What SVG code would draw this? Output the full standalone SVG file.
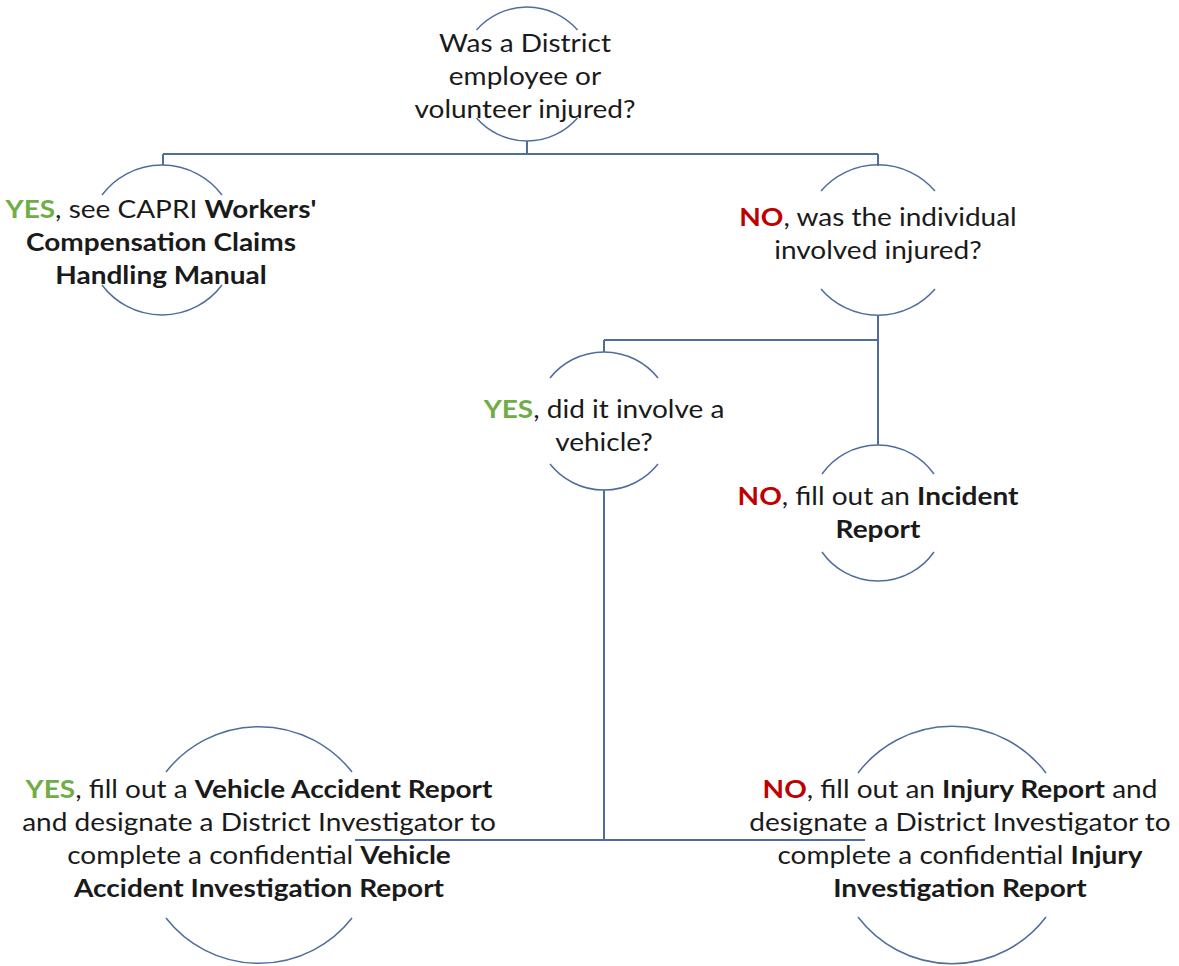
<svg xmlns="http://www.w3.org/2000/svg" width="1179" height="966" viewBox="0 0 1179 966">
<style>
.arc{fill:none;stroke:#4f6d9c;stroke-width:1.5}
.con{fill:none;stroke:#4f6d9c;stroke-width:2}
text{font-family:Lato,"Open Sans","Liberation Sans",sans-serif;font-size:25px;fill:#1a1a1a;text-anchor:middle}
.b{font-weight:bold}
.yes{font-weight:bold;fill:#70ad47}
.no{font-weight:bold;fill:#c00000}
</style>
<rect width="1179" height="966" fill="#fff"/>
<g id="connectors">
<path class="con" d="M527 141V154M163 154H878M163 154V165M878 154V166"/>
<path class="con" d="M878 315V445M604 340H878M604 340V352"/>
<path class="con" d="M604 490V840M355 840H865"/>
</g>
<g id="n-top">
<path class="arc" d="M476.5 30A67 67 0 0 1 577.5 30M577.5 118A67 67 0 0 1 476.5 118"/>
<g transform="matrix(1.12 0 0 1 525 0)">
<text x="0" y="52">Was a District</text>
<text x="0" y="85">employee or</text>
<text x="0" y="118">volunteer injured?</text>
</g>
</g>
<g id="n-yes-wc">
<path class="arc" d="M102 195A75 75 0 0 1 222 195M222 285A75 75 0 0 1 102 285"/>
<g transform="matrix(1.12 0 0 1 161 0)">
<text x="0" y="218"><tspan class="yes">YES</tspan>, see CAPRI <tspan class="b">Workers'</tspan></text>
<text x="0" y="251" class="b">Compensation Claims</text>
<text x="0" y="284" class="b">Handling Manual</text>
</g>
</g>
<g id="n-no-injured">
<path class="arc" d="M821 191A75 75 0 0 1 935 191M935 289A75 75 0 0 1 821 289"/>
<g transform="matrix(1.12 0 0 1 878 0)">
<text x="0" y="226"><tspan class="no">NO</tspan>, was the individual</text>
<text x="0" y="259">involved injured?</text>
</g>
</g>
<g id="n-vehicle-q">
<path class="arc" d="M550 378A69 69 0 0 1 658 378M658 464A69 69 0 0 1 550 464"/>
<g transform="matrix(1.12 0 0 1 604 0)">
<text x="0" y="418"><tspan class="yes">YES</tspan>, did it involve a</text>
<text x="0" y="451">vehicle?</text>
</g>
</g>
<g id="n-incident">
<path class="arc" d="M822 474A68.5 68.5 0 0 1 934 474M934 552A68.5 68.5 0 0 1 822 552"/>
<g transform="matrix(1.12 0 0 1 878 0)">
<text x="0" y="505"><tspan class="no">NO</tspan>, fill out an <tspan class="b">Incident</tspan></text>
<text x="0" y="538" class="b">Report</text>
</g>
</g>
<g id="n-vehicle-report">
<path class="arc" d="M166 772A118 118 0 0 1 352 772M352 918A118 118 0 0 1 166 918"/>
<g transform="matrix(1.12 0 0 1 259 0)">
<text x="0" y="798"><tspan class="yes">YES</tspan>, fill out a <tspan class="b">Vehicle Accident Report</tspan></text>
<text x="0" y="831">and designate a District Investigator to</text>
<text x="0" y="864">complete a confidential <tspan class="b">Vehicle</tspan></text>
<text x="0" y="897" class="b">Accident Investigation Report</text>
</g>
</g>
<g id="n-injury-report">
<path class="arc" d="M858 773A118 118 0 0 1 1046 773M1046 917A118 118 0 0 1 858 917"/>
<g transform="matrix(1.12 0 0 1 960 0)">
<text x="0" y="798"><tspan class="no">NO</tspan>, fill out an <tspan class="b">Injury Report</tspan> and</text>
<text x="0" y="831">designate a District Investigator to</text>
<text x="0" y="864">complete a confidential <tspan class="b">Injury</tspan></text>
<text x="0" y="897" class="b">Investigation Report</text>
</g>
</g>
</svg>
